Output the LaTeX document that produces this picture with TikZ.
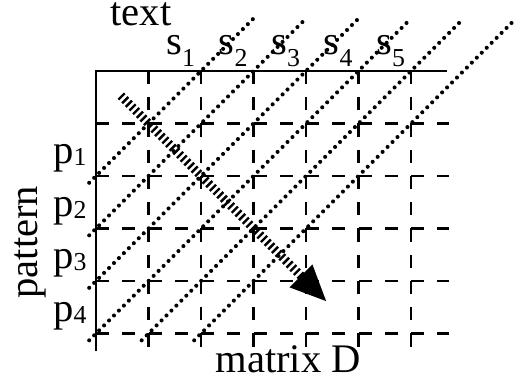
\documentclass[tikz,border=0pt]{standalone}
\usepackage{fontspec}
\setmainfont{Liberation Serif}
\usetikzlibrary{arrows.meta}
\newcommand{\subs}[2]{\raisebox{#1}{\fontsize{14}{14}\selectfont #2}}

\begin{document}
\begin{tikzpicture}[
  gridline/.style={line width=1.2pt,dash pattern=on 0.25cm off 0.25cm},
  diagline/.style={line width=2.2pt,line cap=round,dash pattern=on 0pt off 3.8pt},
  scanarrow/.style={line width=4.8pt,dash pattern=on 1.3pt off 1.5pt,-{Triangle[length=20pt,width=16pt]}},
  lbl/.style={inner sep=0pt,anchor=base west,font=\fontsize{22}{26}\selectfont}
]
  \useasboundingbox (-1.829,-5.981) rectangle (8.190,1.352);
  % frame and dashed grid
  \draw[line width=1.2pt] (0,-5.33) -- (0,0) -- (6.68,0);
  \foreach \i in {1,...,5}
    \draw[gridline] (0,-\i) -- (6.72,-\i);
  \foreach \j in {1,...,6}
    \draw[gridline] (\j,0) -- (\j,-5.3);
  % dotted diagonals
  \foreach \k in {2,...,7} {
    \pgfmathsetmacro{\xs}{max(\k-5,0)-0.13}
    \draw[diagline] (\xs,\xs-\k) -- (\k+1,1);
  }
  % scan direction
  \coordinate (scanstart) at (0.47,-0.47);
  \coordinate (scanend) at (4.4,-4.4);
  \draw[scanarrow] (scanstart) -- (scanend);
  % labels
  \node[lbl,text height=14pt] (txt) at (0.267,0.86) {text};
  \foreach \k in {1,...,5}
    \node[lbl,text height=10pt] (s\k) at (\k+0.33,0.32) {s\subs{-6.5pt}{\k}};
  \foreach \k in {1,...,4}
    \node[lbl] (p\k) at (-0.82,-\k-0.77) {p\subs{-1pt}{\k}};
  \node[lbl,rotate=90] (pat) at (-1.12,-4.34) {pattern};
  \node[lbl] (mat) at (2.27,-5.75) {matrix D};
\end{tikzpicture}
\end{document}
